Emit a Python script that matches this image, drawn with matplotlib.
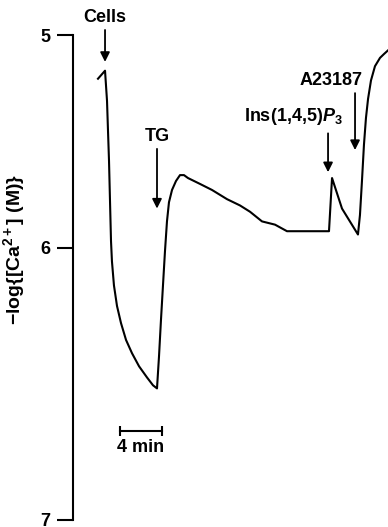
import numpy as np
import matplotlib
matplotlib.use('Agg')
import matplotlib.pyplot as plt

plt.rcParams['font.family'] = ['Liberation Sans', 'DejaVu Sans']
plt.rcParams['font.weight'] = 'bold'
plt.rcParams['mathtext.fontset'] = 'custom'
plt.rcParams['mathtext.rm'] = 'Liberation Sans:bold'
plt.rcParams['mathtext.it'] = 'Liberation Sans:italic:bold'
plt.rcParams['mathtext.bf'] = 'Liberation Sans:bold'

# trace: time (min) and -log[Ca2+]
tempo = [2.38, 3.05, 3.24, 3.33, 3.43, 3.52, 3.62, 3.71, 3.90, 4.19, 4.57, 5.05,
         5.62, 6.29, 7.05, 7.62, 8.00,
         8.19, 8.38, 8.57, 8.76, 8.95, 9.14, 9.43, 9.81, 10.19, 10.57, 10.95, 12.10,
         13.24, 14.67, 15.90, 16.86, 18.00, 19.24, 20.38, 22.10, 24.38, 24.67, 25.62,
         27.14, 27.33, 27.52, 27.71, 27.90, 28.10, 28.38, 28.76, 29.24, 29.62, 30.00]
pca = [5.35, 5.30, 5.47, 5.60, 5.72, 5.85, 5.98, 6.04, 6.11, 6.17, 6.22, 6.27,
       6.31, 6.35, 6.385, 6.41, 6.42,
       6.32, 6.21, 6.11, 6.01, 5.92, 5.86, 5.82, 5.79, 5.77, 5.77, 5.78, 5.80,
       5.82, 5.85, 5.87, 5.89, 5.92, 5.93, 5.95, 5.95, 5.95, 5.78, 5.88,
       5.96, 5.90, 5.79, 5.66, 5.55, 5.46, 5.36, 5.27, 5.21, 5.18, 5.15]

# additions: label, time, arrow head level, arrow length (pt), text offset (pt)
eventos = ['Cells', 'TG', 'Ins(1,4,5)$\\mathit{P}_3$', 'A23187']
eventos_t = [3.05, 8.0, 24.29, 26.86]
eventos_p = [5.24, 5.88, 5.76, 5.68]
setas_len = [23, 43, 28, 41]
texto_dx = [0, 0, -25, -17]
texto_dy = [32, 52, 40, 50]

escala_t = [4.48, 8.48]
escala_p = 6.566

k = 7.4e-7  # calibration-like nonlinear scale


def fwd(p):
    p = np.asarray(p, dtype=float)
    return 1.0 / (1.0 + 10.0 ** (-p) / k)


def inv(s):
    s = np.clip(np.asarray(s, dtype=float), 1e-9, 1 - 1e-9)
    return -np.log10(k * (1.0 / s - 1.0))


fig = plt.figure(figsize=(3.88, 5.27), dpi=100)
ax = fig.add_axes([73 / 388, 7 / 527, 315 / 388, 485 / 527])
ax.set_yscale('function', functions=(fwd, inv))

ax.plot(tempo, pca, color='black', lw=1.5, solid_joinstyle='round')

ax.set_xlim(0, 30)
ax.set_ylim(7, 5)
ax.set_yticks([5, 6, 7])
ax.set_yticklabels(['5', '6', '7'], fontsize=13, fontweight='bold')
ax.yaxis.set_minor_locator(matplotlib.ticker.NullLocator())
ax.tick_params(axis='y', length=11.5, width=1.5, pad=5, direction='out')
ax.set_xticks([])
for s in ['top', 'right', 'bottom']:
    ax.spines[s].set_visible(False)
ax.spines['left'].set_linewidth(1.5)

ax.set_ylabel('\u2212log{[Ca$^{2+}$] (M)}', fontsize=14, fontweight='bold')
ax.yaxis.set_label_coords(-0.145, 0.557)

for nome, t, p, L, dx, dy in zip(eventos, eventos_t, eventos_p, setas_len, texto_dx, texto_dy):
    ax.annotate('', xy=(t, p), xytext=(0, L), textcoords='offset points',
                arrowprops=dict(arrowstyle='-|>', color='black', lw=1.3,
                                mutation_scale=14, shrinkA=0, shrinkB=0),
                annotation_clip=False)
    ax.annotate(nome, xy=(t, p), xytext=(dx, dy), textcoords='offset points',
                ha='center', va='center', fontsize=13, fontweight='bold',
                annotation_clip=False)

# scale bar
ax.plot(escala_t, [escala_p, escala_p], color='black', lw=1.5, marker='|', ms=7, mew=1.5)
ax.annotate('4 min', xy=(np.mean(escala_t), escala_p), xytext=(0, -12),
            textcoords='offset points', ha='center', va='center',
            fontsize=13, fontweight='bold')

fig.savefig('out.png', dpi=100)
